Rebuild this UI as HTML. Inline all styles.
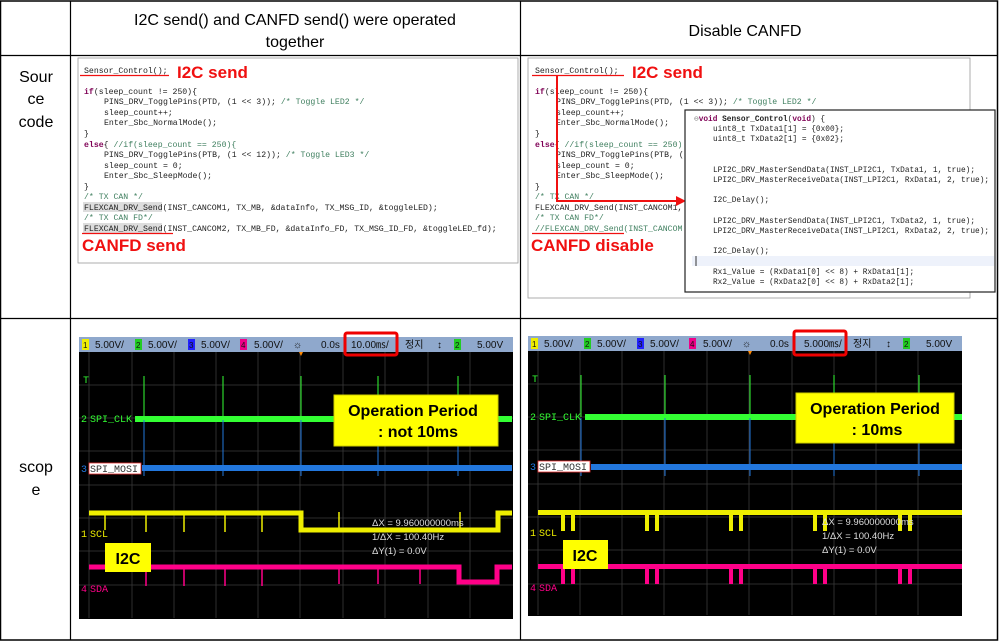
<!DOCTYPE html>
<html><head><meta charset="utf-8"><style>
body{margin:0;background:#fff;width:999px;height:641px;overflow:hidden}
svg{display:block}
.mono{font-family:"Liberation Mono",monospace;font-size:8.2px;fill:#222}
.kw{fill:#7f0055;font-weight:bold}
.cm{fill:#3f7f5f}
.hd{font-family:"Liberation Sans",sans-serif;font-size:16px;fill:#000}
.red{font-family:"Liberation Sans",sans-serif;font-weight:bold;fill:#f01010;font-size:17px}
.bar{font-family:"Liberation Sans",sans-serif;font-size:10px;fill:#111}
.lbl{font-family:"Liberation Sans",sans-serif;font-weight:bold;font-size:16px;fill:#000}
.tr{font-family:"Liberation Mono",monospace;font-size:10px}
.meas{font-family:"Liberation Sans",sans-serif;font-size:9.5px;fill:#ddd}
</style></head><body>
<svg width="999" height="641" viewBox="0 0 999 641" xmlns="http://www.w3.org/2000/svg">
<rect x="0.5" y="1" width="997" height="639" fill="#fff" stroke="#000" stroke-width="1.5"/>
<line x1="70.5" y1="1" x2="70.5" y2="640" stroke="#000" stroke-width="1.2"/>
<line x1="520.5" y1="1" x2="520.5" y2="640" stroke="#000" stroke-width="1.2"/>
<line x1="0" y1="55.5" x2="998" y2="55.5" stroke="#000" stroke-width="1.2"/>
<line x1="0" y1="318.5" x2="998" y2="318.5" stroke="#000" stroke-width="1.2"/>
<text class="hd" x="295" y="25" text-anchor="middle">I2C send() and CANFD send() were operated</text>
<text class="hd" x="295" y="47" text-anchor="middle">together</text>
<text class="hd" x="745" y="36" text-anchor="middle">Disable CANFD</text>
<text class="hd" x="36" y="82" text-anchor="middle">Sour</text>
<text class="hd" x="36" y="104" text-anchor="middle">ce</text>
<text class="hd" x="36" y="127" text-anchor="middle">code</text>
<text class="hd" x="36" y="472" text-anchor="middle">scop</text>
<text class="hd" x="36" y="495" text-anchor="middle">e</text>

<rect x="78" y="58" width="440" height="205" fill="#fff" stroke="#999" stroke-width="0.8"/>
<g class="mono">
<text x="84" y="73">Sensor_Control();</text>
<text x="84" y="94"><tspan class="kw">if</tspan>(sleep_count != 250){</text>
<text x="104" y="104">PINS_DRV_TogglePins(PTD, (1 &lt;&lt; 3)); <tspan class="cm">/* Toggle LED2 */</tspan></text>
<text x="104" y="115">sleep_count++;</text>
<text x="104" y="125">Enter_Sbc_NormalMode();</text>
<text x="84" y="136">}</text>
<text x="84" y="147"><tspan class="kw">else</tspan>{ <tspan class="cm">//if(sleep_count == 250){</tspan></text>
<text x="104" y="157">PINS_DRV_TogglePins(PTB, (1 &lt;&lt; 12)); <tspan class="cm">/* Toggle LED3 */</tspan></text>
<text x="104" y="168">sleep_count = 0;</text>
<text x="104" y="178">Enter_Sbc_SleepMode();</text>
<text x="84" y="189">}</text>
<text x="84" y="199" class="cm">/* TX CAN */</text>
<rect x="83" y="202" width="79" height="10" fill="#ddd"/>
<text x="84" y="210">FLEXCAN_DRV_Send(INST_CANCOM1, TX_MB, &amp;dataInfo, TX_MSG_ID, &amp;toggleLED);</text>
<text x="84" y="220" class="cm">/* TX CAN FD*/</text>
<rect x="83" y="223" width="79" height="10" fill="#ddd"/>
<text x="84" y="231">FLEXCAN_DRV_Send(INST_CANCOM2, TX_MB_FD, &amp;dataInfo_FD, TX_MSG_ID_FD, &amp;toggleLED_fd);</text>
</g>
<line x1="80" y1="75.5" x2="169" y2="75.5" stroke="#f01010" stroke-width="1.2"/>
<line x1="82" y1="233.5" x2="173" y2="233.5" stroke="#f01010" stroke-width="1.2"/>
<text class="red" x="177" y="78">I2C send</text>
<text class="red" x="82" y="251">CANFD send</text>

<rect x="528" y="58" width="442" height="240" fill="#fff" stroke="#999" stroke-width="0.8"/>
<g class="mono">
<text x="535" y="73">Sensor_Control();</text>
<text x="535" y="94"><tspan class="kw">if</tspan>(sleep_count != 250){</text>
<text x="556" y="104">PINS_DRV_TogglePins(PTD, (1 &lt;&lt; 3)); <tspan class="cm">/* Toggle LED2 */</tspan></text>
<text x="556" y="115">sleep_count++;</text>
<text x="556" y="125">Enter_Sbc_NormalMode();</text>
<text x="535" y="136">}</text>
<text x="535" y="147"><tspan class="kw">else</tspan>{ <tspan class="cm">//if(sleep_count == 250)</tspan></text>
<text x="556" y="157">PINS_DRV_TogglePins(PTB, (</text>
<text x="556" y="168">sleep_count = 0;</text>
<text x="556" y="178">Enter_Sbc_SleepMode();</text>
<text x="535" y="189">}</text>
<text x="535" y="199" class="cm">/* TX CAN */</text>
<text x="535" y="210">FLEXCAN_DRV_Send(INST_CANCOM1,</text>
<text x="535" y="220" class="cm">/* TX CAN FD*/</text>
<text x="535" y="231" class="cm">//FLEXCAN_DRV_Send(INST_CANCOM</text>
</g>
<line x1="532" y1="75.5" x2="624" y2="75.5" stroke="#f01010" stroke-width="1.2"/>
<line x1="532" y1="233.5" x2="624" y2="233.5" stroke="#f01010" stroke-width="1.2"/>
<text class="red" x="632" y="78">I2C send</text>
<text class="red" x="531" y="251">CANFD disable</text>
<polyline points="557,75 557,201 678,201" fill="none" stroke="#f01010" stroke-width="2"/>
<polygon points="686,201 676,196 676,206" fill="#f01010"/>
<rect x="685" y="110" width="310" height="182" fill="#fff" stroke="#222" stroke-width="1.2"/>
<rect x="692" y="256" width="302" height="10" fill="#eef2fb"/>
<line x1="696" y1="256" x2="696" y2="266" stroke="#333" stroke-width="1"/>
<g class="mono" style="font-size:7.8px">
<text x="694" y="121"><tspan fill="#888">⊖</tspan><tspan class="kw">void</tspan> <tspan font-weight="bold">Sensor_Control</tspan>(<tspan class="kw">void</tspan>) {</text>
<text x="713" y="131">uint8_t TxData1[1] = {0x00};</text>
<text x="713" y="141">uint8_t TxData2[1] = {0x02};</text>
<text x="713" y="172">LPI2C_DRV_MasterSendData(INST_LPI2C1, TxData1, 1, true);</text>
<text x="713" y="182">LPI2C_DRV_MasterReceiveData(INST_LPI2C1, RxData1, 2, true);</text>
<text x="713" y="202">I2C_Delay();</text>
<text x="713" y="223">LPI2C_DRV_MasterSendData(INST_LPI2C1, TxData2, 1, true);</text>
<text x="713" y="233">LPI2C_DRV_MasterReceiveData(INST_LPI2C1, RxData2, 2, true);</text>
<text x="713" y="253">I2C_Delay();</text>
<text x="713" y="274">Rx1_Value = (RxData1[0] &lt;&lt; 8) + RxData1[1];</text>
<text x="713" y="284">Rx2_Value = (RxData2[0] &lt;&lt; 8) + RxData2[1];</text>
</g>

<g>
<rect x="79" y="337" width="434" height="282" fill="#000"/>
<rect x="79" y="337" width="434" height="15" fill="#8fa8cc"/>
<g stroke="#3a3a3a" stroke-width="0.8">
<line x1="89" y1="352" x2="89" y2="618"/><line x1="132" y1="352" x2="132" y2="618"/><line x1="174" y1="352" x2="174" y2="618"/><line x1="216" y1="352" x2="216" y2="618"/><line x1="258" y1="352" x2="258" y2="618"/><line x1="300" y1="352" x2="300" y2="618"/><line x1="343" y1="352" x2="343" y2="618"/><line x1="385" y1="352" x2="385" y2="618"/><line x1="428" y1="352" x2="428" y2="618"/><line x1="470" y1="352" x2="470" y2="618"/>
<line x1="79" y1="385" x2="513" y2="385"/><line x1="79" y1="418" x2="513" y2="418"/><line x1="79" y1="451" x2="513" y2="451"/><line x1="79" y1="485" x2="513" y2="485"/><line x1="79" y1="518" x2="513" y2="518"/><line x1="79" y1="551" x2="513" y2="551"/><line x1="79" y1="585" x2="513" y2="585"/>
</g>
<g class="bar">
<rect x="82" y="339" width="7" height="11" fill="#ee0"/><text x="83" y="348" font-size="8">1</text><text x="95" y="348">5.00V/</text>
<rect x="135" y="339" width="7" height="11" fill="#2c2"/><text x="136" y="348" font-size="8">2</text><text x="148" y="348">5.00V/</text>
<rect x="188" y="339" width="7" height="11" fill="#22f"/><text x="189" y="348" font-size="8">3</text><text x="201" y="348">5.00V/</text>
<rect x="240" y="339" width="7" height="11" fill="#e08"/><text x="241" y="348" font-size="8">4</text><text x="254" y="348">5.00V/</text>
<text x="293" y="348">☼</text><text x="321" y="348">0.0s</text>
<text x="351" y="348">10.00㎳/</text>
<text x="405" y="348" style="font-family:'Noto Sans CJK KR',sans-serif">정지</text><text x="437" y="348">↕</text>
<rect x="454" y="339" width="7" height="11" fill="#2c2"/><text x="455" y="348" font-size="8">2</text><text x="477" y="348">5.00V</text>
</g>
<rect x="345" y="333" width="52" height="22" fill="none" stroke="#e00" stroke-width="3" rx="2"/>
<polygon points="299,352 303,352 301,356" fill="#f80"/>
<g stroke-width="1">
<g stroke="#3f3">
<line x1="144" y1="376" x2="144" y2="419"/><line x1="223" y1="376" x2="223" y2="419"/><line x1="301" y1="376" x2="301" y2="419"/><line x1="378" y1="376" x2="378" y2="419"/><line x1="458" y1="376" x2="458" y2="419"/>
</g>
<rect x="135" y="416" width="377" height="6" fill="#3f3"/>
<g stroke="#27d">
<line x1="144" y1="420" x2="144" y2="476"/><line x1="223" y1="420" x2="223" y2="476"/><line x1="301" y1="420" x2="301" y2="476"/><line x1="378" y1="420" x2="378" y2="476"/><line x1="458" y1="420" x2="458" y2="476"/>
</g>
<rect x="142" y="465" width="370" height="6" fill="#27d"/>
<polyline points="89,513 301,513 301,530 498,530 498,513 512,513" fill="none" stroke="#ee0" stroke-width="5"/>
<g stroke="#ee0" stroke-width="1.5"><line x1="105" y1="515" x2="105" y2="530"/><line x1="146" y1="515" x2="146" y2="532"/><line x1="184" y1="515" x2="184" y2="532"/><line x1="225" y1="515" x2="225" y2="532"/><line x1="262" y1="515" x2="262" y2="532"/><line x1="339" y1="528" x2="339" y2="512"/><line x1="460" y1="528" x2="460" y2="512"/></g>
<polyline points="89,567 459,567 459,582 497,582 497,567 512,567" fill="none" stroke="#f08" stroke-width="5"/>
<g stroke="#f08" stroke-width="1.5"><line x1="146" y1="569" x2="146" y2="586"/><line x1="184" y1="569" x2="184" y2="586"/><line x1="225" y1="569" x2="225" y2="586"/><line x1="262" y1="569" x2="262" y2="586"/><line x1="339" y1="569" x2="339" y2="584"/><line x1="378" y1="569" x2="378" y2="584"/><line x1="420" y1="569" x2="420" y2="584"/></g>
</g>
<text class="tr" x="83" y="383" fill="#3f3" font-size="8">T</text>
<text class="tr" x="81" y="422" fill="#3f3">2</text><text class="tr" x="90" y="422" fill="#3f3">SPI_CLK</text>
<rect x="89" y="463" width="52" height="11" fill="#fff" stroke="#e33" stroke-width="0.8"/>
<text class="tr" x="81" y="472" fill="#27d">3</text><text class="tr" x="90" y="472" fill="#333">SPI_MOSI</text>
<text class="tr" x="81" y="537" fill="#ee0">1</text><text class="tr" x="90" y="537" fill="#ee0">SCL</text>
<text class="tr" x="81" y="592" fill="#f08">4</text><text class="tr" x="90" y="592" fill="#f08">SDA</text>
<text class="meas" x="372" y="526">ΔX = 9.960000000ms</text>
<text class="meas" x="372" y="540">1/ΔX = 100.40Hz</text>
<text class="meas" x="372" y="554">ΔY(1) = 0.0V</text>
<rect x="334" y="395" width="164" height="51" fill="#ff0" stroke="#cc0"/>
<text class="lbl" x="413" y="416" text-anchor="middle">Operation Period</text>
<text class="lbl" x="418" y="437" text-anchor="middle">: not 10ms</text>
<rect x="105" y="543" width="46" height="29" fill="#ff0"/>
<text class="lbl" x="128" y="564" text-anchor="middle">I2C</text>
</g>

<g>
<rect x="528" y="336" width="434" height="280" fill="#000"/>
<rect x="528" y="336" width="434" height="15" fill="#8fa8cc"/>
<g stroke="#3a3a3a" stroke-width="0.8">
<line x1="538" y1="351" x2="538" y2="615"/><line x1="580" y1="351" x2="580" y2="615"/><line x1="622" y1="351" x2="622" y2="615"/><line x1="664" y1="351" x2="664" y2="615"/><line x1="707" y1="351" x2="707" y2="615"/><line x1="749" y1="351" x2="749" y2="615"/><line x1="792" y1="351" x2="792" y2="615"/><line x1="834" y1="351" x2="834" y2="615"/><line x1="876" y1="351" x2="876" y2="615"/><line x1="918" y1="351" x2="918" y2="615"/>
<line x1="528" y1="384" x2="962" y2="384"/><line x1="528" y1="417" x2="962" y2="417"/><line x1="528" y1="450" x2="962" y2="450"/><line x1="528" y1="484" x2="962" y2="484"/><line x1="528" y1="517" x2="962" y2="517"/><line x1="528" y1="550" x2="962" y2="550"/><line x1="528" y1="584" x2="962" y2="584"/>
</g>
<g class="bar">
<rect x="531" y="338" width="7" height="11" fill="#ee0"/><text x="532" y="347" font-size="8">1</text><text x="544" y="347">5.00V/</text>
<rect x="584" y="338" width="7" height="11" fill="#2c2"/><text x="585" y="347" font-size="8">2</text><text x="597" y="347">5.00V/</text>
<rect x="637" y="338" width="7" height="11" fill="#22f"/><text x="638" y="347" font-size="8">3</text><text x="650" y="347">5.00V/</text>
<rect x="689" y="338" width="7" height="11" fill="#e08"/><text x="690" y="347" font-size="8">4</text><text x="703" y="347">5.00V/</text>
<text x="742" y="347">☼</text><text x="770" y="347">0.0s</text>
<text x="804" y="347">5.000㎳/</text>
<text x="853" y="347" style="font-family:'Noto Sans CJK KR',sans-serif">정지</text><text x="886" y="347">↕</text>
<rect x="903" y="338" width="7" height="11" fill="#2c2"/><text x="904" y="347" font-size="8">2</text><text x="926" y="347">5.00V</text>
</g>
<rect x="794" y="331" width="52" height="24" fill="none" stroke="#e00" stroke-width="3" rx="2"/>
<polygon points="748,351 752,351 750,355" fill="#f80"/>
<g stroke="#3f3"><line x1="581" y1="375" x2="581" y2="417"/><line x1="665" y1="375" x2="665" y2="417"/><line x1="750" y1="375" x2="750" y2="417"/><line x1="834" y1="375" x2="834" y2="417"/><line x1="919" y1="375" x2="919" y2="417"/></g>
<rect x="585" y="414" width="377" height="6" fill="#3f3"/>
<g stroke="#27d"><line x1="581" y1="418" x2="581" y2="476"/><line x1="665" y1="418" x2="665" y2="476"/><line x1="750" y1="418" x2="750" y2="476"/><line x1="834" y1="418" x2="834" y2="476"/><line x1="919" y1="418" x2="919" y2="476"/></g>
<rect x="591" y="464" width="371" height="6" fill="#27d"/>
<rect x="538" y="510" width="424" height="5" fill="#ee0"/>
<g fill="#ee0">
<rect x="561" y="512" width="4" height="19"/><rect x="571" y="512" width="4" height="19"/>
<rect x="645" y="512" width="4" height="19"/><rect x="655" y="512" width="4" height="19"/>
<rect x="729" y="512" width="4" height="19"/><rect x="739" y="512" width="4" height="19"/>
<rect x="813" y="512" width="4" height="19"/><rect x="823" y="512" width="4" height="19"/>
<rect x="898" y="512" width="4" height="19"/><rect x="908" y="512" width="4" height="19"/>
</g>
<rect x="538" y="564" width="424" height="5" fill="#f08"/>
<g fill="#f08">
<rect x="561" y="566" width="4" height="18"/><rect x="571" y="566" width="4" height="18"/>
<rect x="645" y="566" width="4" height="18"/><rect x="655" y="566" width="4" height="18"/>
<rect x="729" y="566" width="4" height="18"/><rect x="739" y="566" width="4" height="18"/>
<rect x="813" y="566" width="4" height="18"/><rect x="823" y="566" width="4" height="18"/>
<rect x="898" y="566" width="4" height="18"/><rect x="908" y="566" width="4" height="18"/>
</g>
<text class="tr" x="532" y="382" fill="#3f3" font-size="8">T</text>
<text class="tr" x="530" y="420" fill="#3f3">2</text><text class="tr" x="539" y="420" fill="#3f3">SPI_CLK</text>
<rect x="538" y="461" width="52" height="11" fill="#fff" stroke="#e33" stroke-width="0.8"/>
<text class="tr" x="530" y="470" fill="#27d">3</text><text class="tr" x="539" y="470" fill="#333">SPI_MOSI</text>
<text class="tr" x="530" y="536" fill="#ee0">1</text><text class="tr" x="539" y="536" fill="#ee0">SCL</text>
<text class="tr" x="530" y="591" fill="#f08">4</text><text class="tr" x="539" y="591" fill="#f08">SDA</text>
<text class="meas" x="822" y="525">ΔX = 9.960000000ms</text>
<text class="meas" x="822" y="539">1/ΔX = 100.40Hz</text>
<text class="meas" x="822" y="553">ΔY(1) = 0.0V</text>
<rect x="796" y="393" width="158" height="50" fill="#ff0" stroke="#cc0"/>
<text class="lbl" x="875" y="414" text-anchor="middle">Operation Period</text>
<text class="lbl" x="877" y="435" text-anchor="middle">: 10ms</text>
<rect x="563" y="540" width="45" height="29" fill="#ff0"/>
<text class="lbl" x="585" y="561" text-anchor="middle">I2C</text>
</g>
</svg>
</body></html>
